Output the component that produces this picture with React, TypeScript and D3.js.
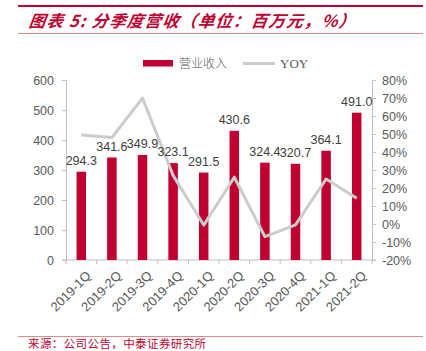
import React, { useEffect, useRef } from "react";
import * as d3 from "d3";

const quarters = [
  "2019-1Q", "2019-2Q", "2019-3Q", "2019-4Q", "2020-1Q",
  "2020-2Q", "2020-3Q", "2020-4Q", "2021-1Q", "2021-2Q",
];
const revenue = [294.3, 341.6, 349.9, 323.1, 291.5, 430.6, 324.4, 320.7, 364.1, 491.0];
const yoy = [49.5, 48, 70, 27, -0.6, 26, -7, -0.5, 25, 14.3];
const leftTicks = [0, 100, 200, 300, 400, 500, 600];
const rightTicks = [-20, -10, 0, 10, 20, 30, 40, 50, 60, 70, 80];

const RED = "#c00030";
const GRAY = "#595959";
const LINE = "#cccccc";
const FONT = "Liberation Sans, Arial, sans-serif";
const CJK = "Noto Sans CJK SC, sans-serif";

function App() {
  const svgRef = useRef<SVGSVGElement>(null);

  useEffect(() => {
    const svg = d3.select(svgRef.current);
    svg.selectAll("*").remove();

    const left = 66, right = 372, top = 80, bottom = 260;

    const x = d3.scaleBand().domain(quarters).range([left, right]);
    const yL = d3.scaleLinear().domain([0, 600]).range([bottom, top]);
    const yR = d3.scaleLinear().domain([-20, 80]).range([bottom, top]);

    // header and footer rules
    svg.append("line").attr("x1", 18).attr("x2", 423).attr("y1", 6).attr("y2", 6)
      .attr("stroke", RED).attr("stroke-width", 2);
    svg.append("text").attr("x", 28).attr("y", 27)
      .attr("fill", RED).attr("font-family", CJK).attr("font-size", 16.5)
      .attr("font-weight", "bold").attr("font-style", "italic")
      .attr("letter-spacing", 1.2)
      .attr("transform", "skewX(-8) translate(4,0)")
      .text("图表 5: 分季度营收（单位：百万元，%）");
    svg.append("line").attr("x1", 18).attr("x2", 423).attr("y1", 33.5).attr("y2", 33.5)
      .attr("stroke", "#e08a8a").attr("stroke-width", 1);
    svg.append("line").attr("x1", 18).attr("x2", 423).attr("y1", 336.5).attr("y2", 336.5)
      .attr("stroke", "#e08a8a").attr("stroke-width", 1);
    svg.append("text").attr("x", 28).attr("y", 348)
      .attr("fill", RED).attr("font-family", CJK).attr("font-size", 11.5)
      .attr("letter-spacing", 0.4)
      .text("来源：公司公告，中泰证券研究所");

    // legend
    svg.append("rect").attr("x", 143).attr("y", 60).attr("width", 30).attr("height", 6.5).attr("fill", RED);
    svg.append("text").attr("x", 179).attr("y", 68).attr("fill", GRAY)
      .attr("font-family", CJK).attr("font-size", 12).attr("font-weight", 300).text("营业收入");
    svg.append("line").attr("x1", 243).attr("x2", 275).attr("y1", 63.5).attr("y2", 63.5)
      .attr("stroke", LINE).attr("stroke-width", 3);
    svg.append("text").attr("x", 280).attr("y", 68).attr("fill", GRAY)
      .attr("font-family", "Liberation Serif, serif").attr("font-size", 13).text("YOY");

    // axes
    const styleAxis = (g: any) => {
      g.selectAll("path,line").attr("stroke", "#bfbfbf");
      g.selectAll("text").attr("fill", GRAY).attr("font-family", FONT).attr("font-size", 12.5);
    };
    svg.append("g").attr("transform", `translate(${left},0)`)
      .call(d3.axisLeft(yL).tickValues(leftTicks).tickSize(4).tickSizeOuter(4).tickPadding(8))
      .call(styleAxis);
    svg.append("g").attr("transform", `translate(${right},0)`)
      .call(d3.axisRight(yR).tickValues(rightTicks).tickSize(4).tickSizeOuter(4).tickPadding(6)
        .tickFormat((d: any) => d + "%"))
      .call(styleAxis);

    const xg = svg.append("g").attr("transform", `translate(0,${bottom})`);
    xg.append("line").attr("x1", left - 4).attr("x2", right + 4).attr("y1", 0).attr("y2", 0)
      .attr("stroke", "#bfbfbf");
    xg.selectAll(".xt").data(quarters.concat(["end"])).join("line")
      .attr("x1", (d, i) => left + i * x.step()).attr("x2", (d, i) => left + i * x.step())
      .attr("y1", 0).attr("y2", 4).attr("stroke", "#bfbfbf");
    xg.selectAll(".xl").data(quarters).join("text")
      .attr("transform", (d) => `translate(${x(d)! + x.bandwidth() / 2 + 4},${10}) rotate(-45)`)
      .attr("text-anchor", "end").attr("dy", "0.7em")
      .attr("fill", GRAY).attr("font-family", FONT).attr("font-size", 13)
      .text((d) => d);

    // bars
    const bw = 9.5;
    svg.selectAll(".bar").data(revenue).join("rect")
      .attr("x", (d, i) => x(quarters[i])! + x.bandwidth() / 2 - bw / 2)
      .attr("width", bw)
      .attr("y", (d) => yL(d))
      .attr("height", (d) => yL(0) - yL(d))
      .attr("fill", RED);

    // yoy line
    const lineGen = d3.line<number>()
      .x((d, i) => x(quarters[i])! + x.bandwidth() / 2)
      .y((d) => yR(d));
    svg.append("path").datum(yoy).attr("d", lineGen)
      .attr("fill", "none").attr("stroke", LINE).attr("stroke-width", 3)
      .attr("stroke-linejoin", "round");

    // labels
    svg.selectAll(".lbl").data(revenue).join("text")
      .attr("x", (d, i) => x(quarters[i])! + x.bandwidth() / 2)
      .attr("y", (d) => yL(d) - 7)
      .attr("text-anchor", "middle")
      .attr("fill", "#404040").attr("font-family", FONT).attr("font-size", 12.5)
      .text((d) => d.toFixed(1));
  }, []);

  return (
    <svg ref={svgRef} width={426} height={351}
      style={{ position: "absolute", left: 0, top: 0, background: "#fff" }} />
  );
}

export default App;
